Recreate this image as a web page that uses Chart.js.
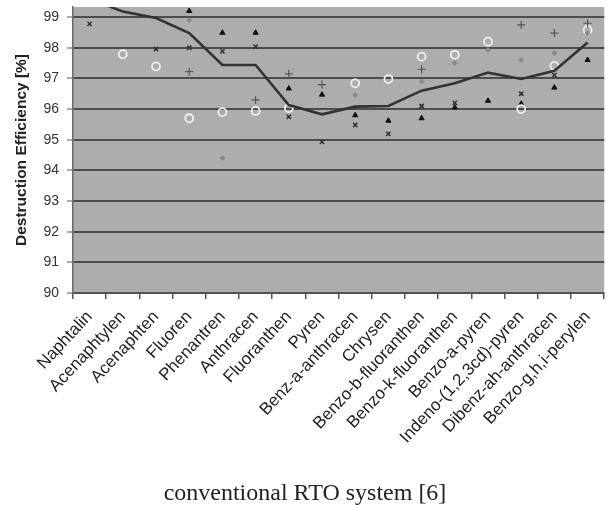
<!DOCTYPE html>
<html>
<head>
<meta charset="utf-8">
<script src="https://cdn.jsdelivr.net/npm/chart.js@4"></script>
<style>
  body { margin: 0; background: #fff; }
  #wrap { position: relative; width: 610px; height: 506px; }
  #caption {
    position: absolute; left: 0; top: 479px; width: 610px; text-align: center;
    font-family: "Liberation Serif", serif; font-size: 24px; color: #222;
  }
</style>
</head>
<body>
<div id="wrap">
  <canvas id="myChart" width="610" height="506"></canvas>
  <div id="caption">conventional RTO system [6]</div>
</div>
<script>
var labels = ["Naphtalin", "Acenaphtylen", "Acenaphten", "Fluoren", "Phenantren", "Anthracen",
  "Fluoranthen", "Pyren", "Benz-a-anthracen", "Chrysen", "Benzo-b-fluoranthen",
  "Benzo-k-fluoranthen", "Benzo-a-pyren", "Indeno-(1,2,3cd)-pyren", "Dibenz-ah-anthracen",
  "Benzo-g,h,i-perylen"];
var yTicks = [90, 91, 92, 93, 94, 95, 96, 97, 98, 99];

// mean line
var mean = [99.6, 99.18, 98.97, 98.48, 97.44, 97.44, 96.13, 95.83, 96.08, 96.1, 96.6, 96.84, 97.19, 96.98, 97.25, 98.17];
// single measurements
var triangles = [null, null, null, 99.2, 98.49, 98.49, 96.67, 96.47, 95.8, 95.62, 95.7, 96.05, 96.27, 96.17, 96.7, 97.6];
var circles = [null, 97.79, 97.39, 95.7, 95.9, 95.94, 96.03, null, 96.84, 96.98, 97.71, 97.77, 98.2, 96.0, 97.41, 98.58];
var crosses = [98.78, null, 97.96, 98.0, 97.88, 98.04, 95.75, 94.93, 95.48, 95.19, 96.1, 96.2, null, 96.5, 97.11, null];
var plus = [null, null, null, 97.22, null, 96.3, 97.15, 96.8, null, null, 97.3, null, null, 98.75, 98.48, 98.8];
var grey = [null, null, null, 98.9, 94.4, null, null, null, 96.46, null, 96.9, 97.5, 97.93, 97.6, 97.83, 98.48];

var plotBg = {
  id: 'plotBg',
  beforeDraw: function(chart) {
    var a = chart.chartArea, c = chart.ctx;
    c.save();
    c.fillStyle = '#adadad';
    c.fillRect(a.left, a.top, a.right - a.left, a.bottom - a.top);
    c.restore();
  }
};

function pts(data, style, color, fill, r, bw) {
  return {
    type: 'line', data: data, showLine: false, pointStyle: style,
    pointRadius: r, pointBorderColor: color, pointBackgroundColor: fill,
    pointBorderWidth: bw, order: 1
  };
}

var ctx = document.getElementById("myChart").getContext('2d');
var myChart = new Chart(ctx, {
  type: 'line',
  data: {
    labels: labels,
    datasets: [
      { data: mean, borderColor: '#333', borderWidth: 2.6, pointRadius: 0, tension: 0, order: 0 },
      pts(grey, 'rectRot', '#8a8a8a', '#8a8a8a', 2.5, 1),
      pts(plus, 'cross', '#555', '#555', 4, 1.2),
      pts(crosses, 'crossRot', '#333', '#333', 3, 1.5),
      pts(circles, 'circle', '#eeeeee', 'rgba(0,0,0,0)', 4, 1.8),
      pts(triangles, 'triangle', '#111', '#111', 3, 1)
    ]
  },
  options: {
    responsive: false,
    animation: false,
    layout: { padding: { top: 7, right: 0, left: 0, bottom: 0 } },
    plugins: { legend: { display: false }, tooltip: { enabled: false } },
    scales: {
      x: {
        offset: true,
        grid: { offset: true, drawOnChartArea: false, color: '#555', tickLength: 6, lineWidth: 1.5 },
        border: { color: '#555', width: 1.5 },
        ticks: {
          autoSkip: false, maxRotation: 47, minRotation: 47, padding: 8,
          color: '#222', font: { family: 'Liberation Sans, Arial', size: 17 }
        },
        afterFit: function(s) { s.height = 213; s.paddingLeft = 0; s.paddingRight = 0; }
      },
      y: {
        min: 90, max: 99.33,
        afterBuildTicks: function(axis) {
          axis.ticks = yTicks.map(function(v) { return { value: v }; });
        },
        grid: { color: '#4d4d4d', lineWidth: 2, tickLength: 6, tickColor: '#555', tickWidth: 1 },
        border: { color: '#6a6a6a', width: 1.5 },
        ticks: { color: '#333', padding: 8, font: { family: 'Liberation Sans, Arial', size: 14 } },
        title: {
          display: true, text: 'Destruction Efficiency [%]', color: '#222',
          font: { family: 'Liberation Sans, Arial', size: 15.5, weight: 'bold' }, padding: { top: 12, bottom: 0 }
        },
        afterFit: function(s) { s.width = 73; s.paddingTop = 0; s.paddingBottom = 0; }
      }
    }
  },
  plugins: [plotBg]
});
</script>
</body>
</html>
